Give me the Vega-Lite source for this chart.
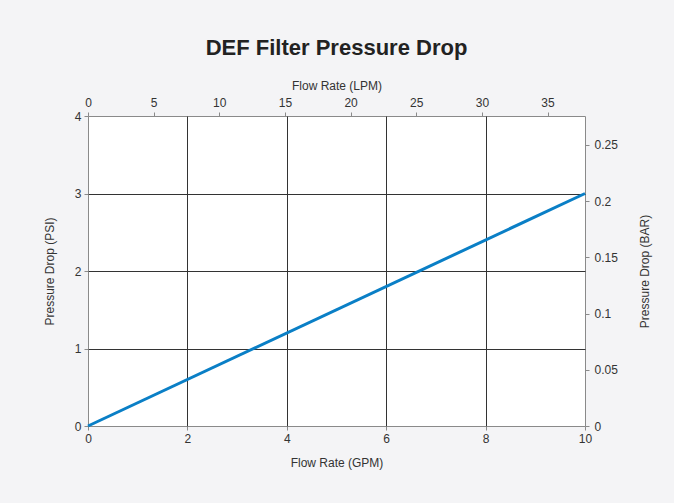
{
  "$schema": "https://vega.github.io/schema/vega-lite/v6.json",
  "width": 497,
  "height": 310,
  "autosize": {"type": "none"},
  "padding": {"left": 88, "top": 116, "right": 89, "bottom": 77},
  "background": "#f4f4f6",
  "title": {"text": "DEF Filter Pressure Drop", "fontSize": 22, "fontWeight": "bold", "font": "Liberation Sans", "color": "#222222", "anchor": "middle", "offset": 19},
  "config": {
    "view": {"fill": "white", "stroke": "#8a8a8a", "strokeWidth": 1},
    "font": "Liberation Sans",
    "axis": {
      "labelFont": "Liberation Sans", "labelFontSize": 12, "labelColor": "#333333",
      "titleFont": "Liberation Sans", "titleFontSize": 12, "titleFontWeight": "normal", "titleColor": "#333333",
      "domain": false, "tickColor": "#8a8a8a", "tickSize": 4, "labelPadding": 3, "labelFlush": false
    }
  },
  "data": {"values": [
    {"gpm": 0, "psi": 0, "lpm": 0, "bar": 0},
    {"gpm": 10, "psi": 3, "lpm": 37.854, "bar": 0.2068}
  ]},
  "layer": [
    {
      "mark": {"type": "line", "color": "#0a7fc6", "strokeWidth": 3},
      "encoding": {
        "x": {"field": "gpm", "type": "quantitative", "scale": {"domain": [0, 10], "nice": false},
          "axis": {"orient": "bottom", "values": [0, 2, 4, 6, 8, 10], "title": "Flow Rate (GPM)", "titlePadding": 13,
            "grid": true, "gridColor": "#333333", "gridWidth": 1,
            "gridOpacity": {"condition": {"test": "datum.value == 0 || datum.value == 10", "value": 0}, "value": 1}}},
        "y": {"field": "psi", "type": "quantitative", "scale": {"domain": [0, 4], "nice": false},
          "axis": {"orient": "left", "values": [0, 1, 2, 3, 4], "title": "Pressure Drop (PSI)", "titlePadding": 18,
            "grid": true, "gridColor": "#333333", "gridWidth": 1,
            "gridOpacity": {"condition": {"test": "datum.value == 0 || datum.value == 4", "value": 0}, "value": 1}}}
      }
    },
    {
      "mark": {"type": "line", "opacity": 0},
      "encoding": {
        "x": {"field": "lpm", "type": "quantitative", "scale": {"domain": [0, 37.854], "nice": false},
          "axis": {"orient": "top", "values": [0, 5, 10, 15, 20, 25, 30, 35], "title": "Flow Rate (LPM)", "titlePadding": 4, "grid": false}},
        "y": {"field": "bar", "type": "quantitative", "scale": {"domain": [0, 0.27579], "nice": false},
          "axis": {"orient": "right", "values": [0, 0.05, 0.1, 0.15, 0.2, 0.25], "format": "~g", "labelPadding": 5, "title": "Pressure Drop (BAR)", "titleAngle": 270, "titlePadding": 34, "grid": false}}
      }
    }
  ],
  "resolve": {"scale": {"x": "independent", "y": "independent"}}
}
